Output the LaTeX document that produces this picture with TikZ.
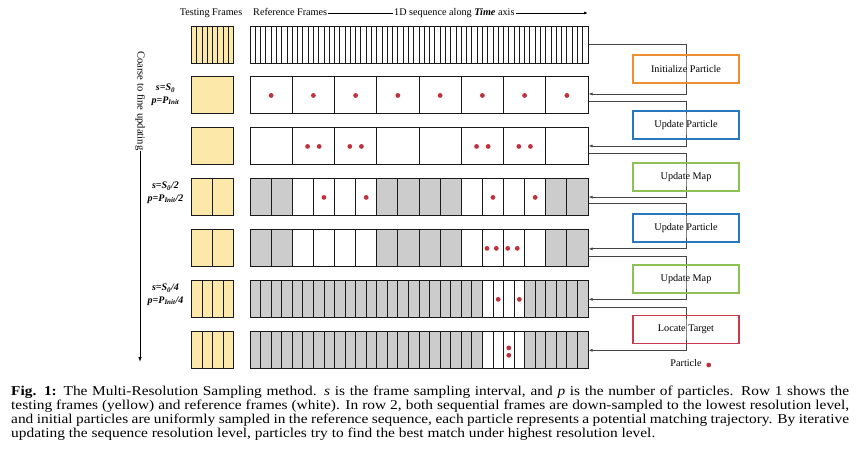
\documentclass[tikz,border=0pt]{standalone}
\usepackage{fontspec}
\setmainfont{Liberation Serif}
\usepackage{graphicx}
\usetikzlibrary{calc,arrows.meta}
\definecolor{yellowF}{HTML}{FCE8A8}
\definecolor{grayF}{HTML}{CCCCCC}
\definecolor{dotc}{HTML}{C0313E}
\definecolor{orangeB}{HTML}{EE8E2E}
\definecolor{blueB}{HTML}{2878BE}
\definecolor{greenB}{HTML}{8DC153}
\definecolor{redB}{HTML}{C93A4D}
\definecolor{connc}{HTML}{454545}
\begin{document}
\begin{tikzpicture}[x=1pt,y=-1pt,
  lbl/.style={inner sep=1pt, font=\fontsize{10.2}{12}\selectfont, text height=7pt, text depth=2pt},
  rowbox/.style={draw=black!90, line width=1pt, minimum width=338pt, minimum height=37pt, inner sep=0pt},
  testbox/.style={draw=black!90, fill=yellowF, line width=1pt, minimum width=42pt, minimum height=37pt, inner sep=0pt},
  div/.style={draw=black!90, line width=0.85pt},
  opbox/.style={line width=1.6pt, minimum width=106pt, minimum height=28pt, inner sep=0pt, font=\fontsize{10.2}{12}\selectfont},
  conn/.style={draw=connc, line width=0.8pt},
  arr/.style={conn, -{Latex[length=4pt,width=3pt]}},
  slbl/.style={inner sep=0pt, font=\fontsize{10}{12}\selectfont\bfseries\itshape}
]
\useasboundingbox (0,0) rectangle (857,455);
\fill[white] (0,0) rectangle (857,455);

% header
\node[lbl] (hdrtest) at (211,13) {Testing Frames};
\node[lbl, anchor=west] (hdrref) at (252,13) {Reference Frames};
\node[lbl, anchor=west] (hdrseq) at (393,13) {1D sequence along \textbf{\textit{Time}} axis};
\coordinate (hdrend) at (588,13);
\draw[conn, draw=black] (hdrref.east) -- (hdrseq.west);
\draw[conn, draw=black, -{Latex[length=4pt,width=3pt]}] (hdrseq.east) -- (hdrend);

% gray fills
\foreach \c in {0,1,6,7,8,9,14,15} {
  \fill[grayF] ({250+\c*21.125},{197.41-18.5}) rectangle ++(21.125,37);
  \fill[grayF] ({250+\c*21.125},{248.38-18.5}) rectangle ++(21.125,37);
}
\foreach \c in {0,...,21} {
  \fill[grayF] ({250+\c*10.5625},{299.35-18.5}) rectangle ++(10.5625,37);
  \fill[grayF] ({250+\c*10.5625},{350.32-18.5}) rectangle ++(10.5625,37);
}
\foreach \c in {26,...,31} {
  \fill[grayF] ({250+\c*10.5625},{299.35-18.5}) rectangle ++(10.5625,37);
  \fill[grayF] ({250+\c*10.5625},{350.32-18.5}) rectangle ++(10.5625,37);
}

% rows
\foreach \i/\n/\tn in {1/64/8,2/8/1,3/8/1,4/16/2,5/16/2,6/32/4,7/32/4} {
  \pgfmathsetmacro\ym{44.5+50.97*(\i-1)}
  \pgfmathsetmacro\cw{338/\n}
  \pgfmathsetmacro\tw{42/\tn}
  \pgfmathtruncatemacro\nm{\n-1}
  \pgfmathtruncatemacro\tm{\tn-1}
  \node[testbox] (t\i) at (212.5,\ym) {};
  \ifnum\tm>0
    \foreach \c in {1,...,\tm} \draw[div] ({191.5+\c*\tw},{\ym-18.5}) -- ++(0,37);
  \fi
  \foreach \c in {1,...,\nm} \draw[div] ({250+\c*\cw},{\ym-18.5}) -- ++(0,37);
  \node[rowbox] (r\i) at (419,\ym) {};
}

% particles
\foreach \c in {0,...,7} \fill[dotc] ({250+42.25*(\c+0.5)},95.47) circle (2.4pt);
\foreach \c in {1,2,5,6} {
  \fill[dotc] ({250+42.25*(\c+0.5)-5.8},146.44) circle (2.4pt);
  \fill[dotc] ({250+42.25*(\c+0.5)+5.8},146.44) circle (2.4pt);
}
\foreach \c in {3,5,11,13} \fill[dotc] ({250+21.125*(\c+0.5)},197.41) circle (2.4pt);
\foreach \x in {487,496.3,507.7,517.3} \fill[dotc] (\x,248.38) circle (2.4pt);
\foreach \c in {23,25} \fill[dotc] ({250+10.5625*(\c+0.5)},299.35) circle (2.4pt);
\fill[dotc] (508.8,347.9) circle (2.4pt);
\fill[dotc] (508.8,355.3) circle (2.4pt);

% left labels
\node[slbl] (s1) at (165.5,88) {s=S\textsubscript{0}};
\node[slbl] (p1) at (165.5,101) {p=P\textsubscript{Init}};
\node[slbl] (s2) at (165.5,186) {s=S\textsubscript{0}/2};
\node[slbl] (p2) at (165.5,199) {p=P\textsubscript{Init}/2};
\node[slbl] (s3) at (165.5,288) {s=S\textsubscript{0}/4};
\node[slbl] (p3) at (165.5,301) {p=P\textsubscript{Init}/4};

% coarse to fine arrow
\node[lbl, rotate=-90, anchor=west, inner sep=0pt, font=\fontsize{10.6}{12}\selectfont] (ctf) at (140,51) {Coarse to fine updating};
\coordinate (ctfend) at (140,362);
\draw[draw=black, line width=0.8pt, -{Latex[length=5pt,width=3.5pt]}] (ctf.east) -- (ctfend);

% operation boxes
\coordinate (b1) at (686,69);
\coordinate (b2) at (686,124.7);
\coordinate (b3) at (686,176.7);
\coordinate (b4) at (686,228);
\coordinate (b5) at (686,279);
\coordinate (b6) at (686,329.5);

\draw[arr] (r1.east) -| (b1) |- ($(r2.east)+(0,-1.5)$);
\draw[arr] ($(r2.east)+(0,5.5)$) -| (b2) |- ($(r3.east)+(0,-0.5)$);
\draw[arr] ($(r3.east)+(0,6.5)$) -| (b3) |- ($(r4.east)+(0,-0.3)$);
\draw[arr] ($(r4.east)+(0,6)$) -| (b4) |- ($(r5.east)+(0,0.5)$);
\draw[arr] ($(r5.east)+(0,8)$) -| (b5) |- ($(r6.east)+(0,0)$);
\draw[arr] ($(r6.east)+(0,8.3)$) -| (b6) |- ($(r7.east)+(0,0)$);

\node[opbox, draw=orangeB] (o1) at (b1) {Initialize Particle};
\node[opbox, draw=blueB] (o2) at (b2) {Update Particle};
\node[opbox, draw=greenB] (o3) at (b3) {Update Map};
\node[opbox, draw=blueB] (o4) at (b4) {Update Particle};
\node[opbox, draw=greenB] (o5) at (b5) {Update Map};
\node[opbox, draw=redB] (o6) at (b6) {Locate Target};

% legend
\node[lbl] (leg) at (686,364) {Particle};
\fill[dotc] (708.7,365) circle (2.4pt);

% caption
\node[anchor=north west, inner sep=0pt] (cap) at (11,386) {\scalebox{1.14}[1]{\parbox{735pt}{\fontsize{13.5}{14}\selectfont\hyphenpenalty=10000
\textbf{Fig. 1:} The Multi-Resolution Sampling method. \textit{s} is the frame sampling interval, and \textit{p} is the number of particles. Row 1 shows the\linebreak
testing frames (yellow) and reference frames (white). In row 2, both sequential frames are down-sampled to the lowest resolution level,\linebreak
and initial particles are uniformly sampled in the reference sequence, each particle represents a potential matching trajectory. By iterative\linebreak
updating the sequence resolution level, particles try to find the best match under highest resolution level.}}};
\end{tikzpicture}
\end{document}
